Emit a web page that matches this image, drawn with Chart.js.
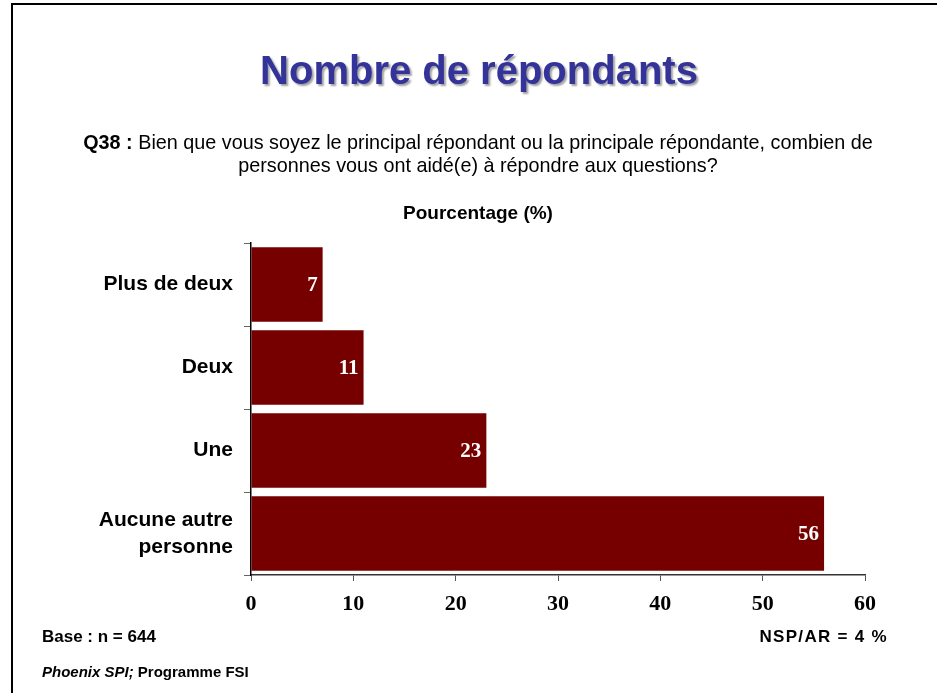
<!DOCTYPE html>
<html>
<head>
<meta charset="utf-8">
<script src="https://cdn.jsdelivr.net/npm/chart.js@4.4.0/dist/chart.umd.min.js"></script>
<style>
  html, body { margin: 0; padding: 0; background: #fff; }
  body { width: 937px; height: 693px; position: relative; overflow: hidden; font-family: "Liberation Sans", Arial, sans-serif; }
  .frame { position: absolute; left: 11px; top: 3px; width: 940px; height: 700px; border-left: 2px solid #000; border-top: 2px solid #000; }
  #wrap { position: absolute; left: 0; top: 0; width: 937px; height: 693px; }
  .txt { position: absolute; white-space: nowrap; color: #000; }
  .title { left: 0; width: 958px; top: 48px; text-align: center; font-size: 40px; font-weight: bold; color: #333399; text-shadow: 2px 2px 2px #a0a0a0; }
  .question { left: 0; width: 956px; top: 131px; text-align: center; font-size: 19.8px; line-height: 23px; }
  .axisTitle { left: 0; width: 956px; top: 202px; text-align: center; font-size: 19px; font-weight: bold; }
  .base { left: 42px; top: 627px; font-size: 17px; font-weight: bold; }
  .nsp { right: 49px; top: 627px; font-size: 17px; font-weight: bold; letter-spacing: 1.3px; }
  .src { left: 42px; top: 663px; font-size: 15px; font-weight: bold; }
</style>
</head>
<body>
<div class="frame"></div>
<div id="wrap"><canvas id="myChart" width="937" height="693"></canvas></div>
<div class="txt title">Nombre de répondants</div>
<div class="txt question"><b>Q38 :</b> Bien que vous soyez le principal répondant ou la principale répondante, combien de<br>personnes vous ont aidé(e) à répondre aux questions?</div>
<div class="txt axisTitle">Pourcentage (%)</div>
<div class="txt base">Base : n = 644</div>
<div class="txt nsp">NSP/AR = 4 %</div>
<div class="txt src"><i>Phoenix SPI;</i> Programme FSI</div>
<script>
const categories = ["Plus de deux", "Deux", "Une", ["Aucune autre", "personne"]];
const percentages = [7, 11, 23, 56];
const xTicks = [0, 10, 20, 30, 40, 50, 60];

const barColor = "#760000";

// writes each value in white at the inner end of its bar
const valueLabels = {
  id: "valueLabels",
  afterDatasetsDraw(chart) {
    const { ctx } = chart;
    const meta = chart.getDatasetMeta(0);
    ctx.save();
    ctx.fillStyle = "#fff";
    ctx.font = "bold 21px 'Liberation Serif', 'Times New Roman', serif";
    ctx.textAlign = "right";
    ctx.textBaseline = "middle";
    meta.data.forEach((bar, i) => {
      ctx.fillText(String(percentages[i]), bar.x - 5, bar.y + 1);
    });
    ctx.restore();
  },
};

const ctx = document.getElementById("myChart").getContext("2d");
const myChart = new Chart(ctx, {
  type: "bar",
  data: {
    labels: categories,
    datasets: [
      {
        data: percentages,
        backgroundColor: barColor,
        borderWidth: 0,
        categoryPercentage: 1,
        barPercentage: 0.9,
      },
    ],
  },
  options: {
    indexAxis: "y",
    responsive: false,
    animation: false,
    events: [],
    layout: {
      padding: { left: 0, right: 72, top: 243, bottom: 0 },
    },
    plugins: {
      legend: { display: false },
      tooltip: { enabled: false },
    },
    scales: {
      x: {
        min: 0,
        max: 60,
        afterBuildTicks: (axis) => {
          axis.ticks = xTicks.map((v) => ({ value: v }));
        },
        grid: {
          drawOnChartArea: false,
          drawTicks: true,
          tickLength: 6,
          color: "#555",
        },
        border: { display: true, color: "#333", width: 1.5 },
        ticks: {
          color: "#000",
          padding: 10,
          maxRotation: 0,
          font: { family: "'Liberation Serif', 'Times New Roman', serif", size: 22, weight: "bold" },
        },
        afterFit: (axis) => {
          axis.height = 118;
        },
      },
      y: {
        grid: {
          drawOnChartArea: false,
          drawTicks: true,
          tickLength: 7,
          color: "#666",
          offset: true,
        },
        border: { display: true, color: "#000", width: 1.5 },
        ticks: {
          color: "#000",
          padding: 11,
          font: { family: "'Liberation Sans', Arial, sans-serif", size: 21, weight: "bold", lineHeight: 1.3 },
        },
        afterFit: (axis) => {
          axis.width = 251;
        },
      },
    },
  },
  plugins: [valueLabels],
});
</script>
</body>
</html>
